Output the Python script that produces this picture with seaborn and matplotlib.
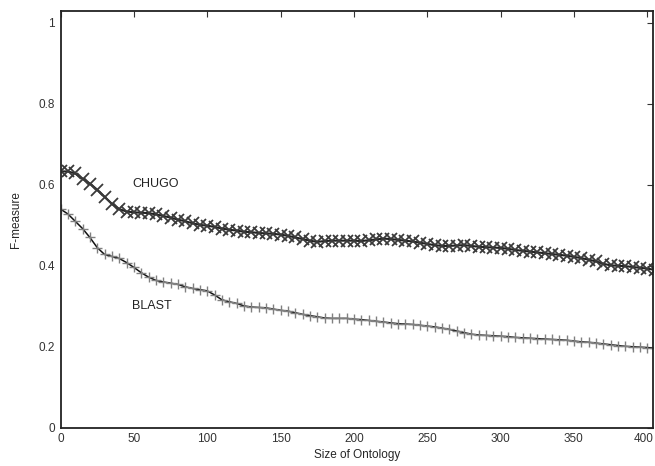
import numpy as np
import pandas as pd
import matplotlib
matplotlib.use("Agg")
import matplotlib.pyplot as plt
import matplotlib.transforms as mtransforms
import seaborn as sns

size = list(range(0, 406, 5))
chugo = [0.633, 0.633, 0.628, 0.615, 0.603, 0.588, 0.570, 0.553, 0.540, 0.534,
         0.532, 0.531, 0.530, 0.527, 0.523, 0.519, 0.514, 0.510, 0.505, 0.501,
         0.499, 0.496, 0.492, 0.489, 0.487, 0.484, 0.483, 0.481, 0.480, 0.479,
         0.477, 0.474, 0.470, 0.466, 0.462, 0.459, 0.461, 0.462, 0.462, 0.462,
         0.462, 0.461, 0.463, 0.465, 0.467, 0.466, 0.464, 0.462, 0.460, 0.457,
         0.454, 0.451, 0.449, 0.449, 0.450, 0.451, 0.449, 0.447, 0.446, 0.445,
         0.444, 0.442, 0.439, 0.437, 0.435, 0.433, 0.431, 0.429, 0.427, 0.425,
         0.422, 0.419, 0.415, 0.411, 0.405, 0.401, 0.400, 0.399, 0.397, 0.395,
         0.393, 0.390]
blast = [0.540, 0.528, 0.510, 0.492, 0.470, 0.445, 0.428, 0.423, 0.418, 0.408,
         0.396, 0.383, 0.372, 0.364, 0.360, 0.357, 0.354, 0.348, 0.344, 0.341,
         0.338, 0.328, 0.316, 0.311, 0.307, 0.301, 0.298, 0.297, 0.296, 0.293,
         0.290, 0.288, 0.284, 0.280, 0.277, 0.274, 0.271, 0.270, 0.270, 0.270,
         0.268, 0.267, 0.265, 0.263, 0.261, 0.259, 0.257, 0.256, 0.255, 0.253,
         0.251, 0.249, 0.246, 0.243, 0.239, 0.235, 0.231, 0.229, 0.228, 0.227,
         0.226, 0.225, 0.223, 0.222, 0.221, 0.220, 0.219, 0.218, 0.217, 0.216,
         0.214, 0.212, 0.211, 0.209, 0.207, 0.205, 0.203, 0.201, 0.200, 0.199,
         0.198, 0.196]
x_ticks = [0, 50, 100, 150, 200, 250, 300, 350, 400]
y_ticks = [0, 0.2, 0.4, 0.6, 0.8, 1.0]
y_tick_labels = ["0", "0.2", "0.4", "0.6", "0.8", "1"]

sns.set_theme(style="white")
plt.rcParams['font.family'] = ['Liberation Sans', 'DejaVu Sans']

fig = plt.figure(figsize=(6.55, 4.66), dpi=100)
ax = fig.add_axes([0.0924, 0.0822, 0.9046, 0.8948])

df = pd.DataFrame({"size": size, "CHUGO": chugo, "BLAST": blast})
sns.lineplot(data=df, x="size", y="CHUGO", ax=ax, color="#222222", lw=1.5,
             marker="x", markersize=8, markeredgewidth=1.3,
             markeredgecolor="#3a3a3a")
sns.lineplot(data=df, x="size", y="BLAST", ax=ax, color="#111111", lw=1.1,
             marker="+", markersize=7, markeredgewidth=1.0,
             markeredgecolor="#808080")

ax.text(49, 0.601, "CHUGO", fontsize=9, va="center", ha="left", color="#222222")
ax.text(49, 0.300, "BLAST", fontsize=9, va="center", ha="left", color="#222222")

ax.set_xlim(0, 404)
ax.set_ylim(0, 1.03)
ax.set_xticks(x_ticks)
ax.set_yticks(y_ticks)
ax.set_yticklabels(y_tick_labels)
ax.set_xlabel("Size of Ontology", fontsize=8.5, labelpad=3)
ax.set_ylabel("F-measure", fontsize=8.5, labelpad=12)
ax.tick_params(direction="in", length=4, width=0.8, top=True, right=True,
               labelsize=8.5, colors="#333333", labelcolor="#333333", pad=4)
for s in ax.spines.values():
    s.set_visible(True)
    s.set_color("#222222")
    s.set_linewidth(1.3)

# nudge the last x tick label so it stays inside the figure
fig.canvas.draw()
last = ax.get_xticklabels()[-1]
last.set_transform(last.get_transform() +
                   mtransforms.ScaledTranslation(-4 / 100, 0, fig.dpi_scale_trans))

fig.savefig("out.png", dpi=100)
